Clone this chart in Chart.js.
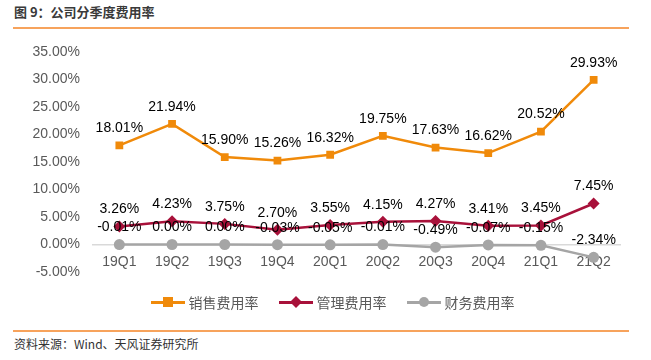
<!DOCTYPE html>
<html>
<head>
<meta charset="utf-8">
<script src="https://cdn.jsdelivr.net/npm/chart.js@4/dist/chart.umd.min.js"></script>
<style>
  html, body { margin: 0; padding: 0; background: #fff; }
  body { width: 651px; height: 360px; position: relative; overflow: hidden; font-family: "Liberation Sans", Arial, sans-serif; }
  #title { position: absolute; left: 14px; top: 2px; font: bold 13px "Noto Sans CJK SC", sans-serif; color: #3a3a3a; }
  .rule { position: absolute; left: 13px; width: 616px; height: 2px; background: #F7A35C; }
  #src { position: absolute; left: 14px; top: 335px; font: 12px "Noto Sans CJK SC", sans-serif; color: #333; }
  #wrap { position: absolute; left: 0; top: 30px; width: 651px; height: 300px; }
  #legend { position: absolute; top: 292px; left: 7px; width: 651px; display: flex; justify-content: center; gap: 20px; font: 14px "Noto Sans CJK SC", sans-serif; color: #595959; }
  .item { display: flex; align-items: center; }
  .sym { position: relative; width: 34px; height: 20px; margin-right: 4px; }
  .sym .ln { position: absolute; left: 0; top: 9px; width: 34px; height: 2.5px; }
  .sym .mk { position: absolute; left: 12px; top: 5px; width: 10px; height: 10px; }
</style>
</head>
<body>
<div id="title">图 9：公司分季度费用率</div>
<div class="rule" style="top:27px"></div>
<div id="wrap"><canvas id="c"></canvas></div>
<div id="legend"></div>
<div class="rule" style="top:330px"></div>
<div id="src">资料来源：Wind、天风证券研究所</div>
<script>
const categories = ["19Q1","19Q2","19Q3","19Q4","20Q1","20Q2","20Q3","20Q4","21Q1","21Q2"];
const salesRate = [18.01, 21.94, 15.90, 15.26, 16.32, 19.75, 17.63, 16.62, 20.52, 29.93];
const mgmtRate  = [3.26, 4.23, 3.75, 2.70, 3.55, 4.15, 4.27, 3.41, 3.45, 7.45];
const finRate   = [-0.01, 0.00, 0.00, -0.03, -0.05, -0.01, -0.49, -0.07, -0.15, -2.34];
const seriesNames = ["销售费用率", "管理费用率", "财务费用率"];
const yTicks = [-5, 0, 5, 10, 15, 20, 25, 30, 35];

const colors = ["#F08A0A", "#A8113A", "#A5A5A5"];
const styles = ["rect", "rectRot", "circle"];
const radii = [5.5, 6, 5.5];
const allData = [salesRate, mgmtRate, finRate];

// HTML legend
const legend = document.getElementById('legend');
seriesNames.forEach((n, i) => {
  const it = document.createElement('div'); it.className = 'item';
  const sym = document.createElement('div'); sym.className = 'sym';
  const ln = document.createElement('div'); ln.className = 'ln'; ln.style.background = colors[i];
  const mk = document.createElement('div'); mk.className = 'mk'; mk.style.background = colors[i];
  if (styles[i] === 'circle') mk.style.borderRadius = '50%';
  if (styles[i] === 'rectRot') { mk.style.transform = 'rotate(45deg) scale(0.85)'; }
  sym.appendChild(ln); sym.appendChild(mk);
  const tx = document.createElement('span'); tx.textContent = n;
  it.appendChild(sym); it.appendChild(tx); legend.appendChild(it);
});

const labelPlugin = {
  id: 'valueLabels',
  afterDatasetsDraw(chart) {
    const ctx = chart.ctx;
    ctx.save();
    ctx.font = '14px "Liberation Sans", Arial, sans-serif';
    ctx.fillStyle = '#000';
    ctx.textAlign = 'center';
    ctx.textBaseline = 'middle';
    chart.data.datasets.forEach((ds, di) => {
      const meta = chart.getDatasetMeta(di);
      meta.data.forEach((pt, i) => {
        ctx.fillText(ds.data[i].toFixed(2) + '%', pt.x, pt.y - 17);
      });
    });
    ctx.restore();
  }
};

new Chart(document.getElementById('c'), {
  type: 'line',
  data: {
    labels: categories,
    datasets: allData.map((d, i) => ({
      label: seriesNames[i],
      data: d,
      borderColor: colors[i],
      backgroundColor: colors[i],
      borderWidth: 2.5,
      pointStyle: styles[i],
      pointRadius: radii[i],
      pointBorderWidth: 0,
      pointHoverRadius: radii[i],
      tension: 0,
      order: i
    }))
  },
  options: {
    responsive: true,
    maintainAspectRatio: false,
    animation: false,
    devicePixelRatio: 1,
    layout: { padding: { top: 22, right: 31, bottom: 58, left: 0 } },
    plugins: { legend: { display: false }, tooltip: { enabled: false } },
    scales: {
      x: {
        position: { y: 0 },
        offset: true,
        grid: { display: false, drawTicks: false },
        border: { display: true, color: '#D9D9D9', width: 1.5 },
        ticks: { color: '#595959', font: { size: 14, family: '"Liberation Sans", Arial, sans-serif' }, padding: 9, maxRotation: 0 },
        afterFit(s) { s.height = 0; }
      },
      y: {
        min: -5, max: 35,
        afterBuildTicks(s) { s.ticks = yTicks.map(v => ({ value: v })); },
        grid: { display: false, drawTicks: false },
        border: { display: false },
        ticks: {
          color: '#595959',
          font: { size: 14, family: '"Liberation Sans", Arial, sans-serif' },
          padding: 13,
          callback: v => v.toFixed(2) + '%'
        },
        afterFit(s) { s.width = 93; }
      }
    }
  },
  plugins: [labelPlugin]
});
</script>
</body>
</html>
